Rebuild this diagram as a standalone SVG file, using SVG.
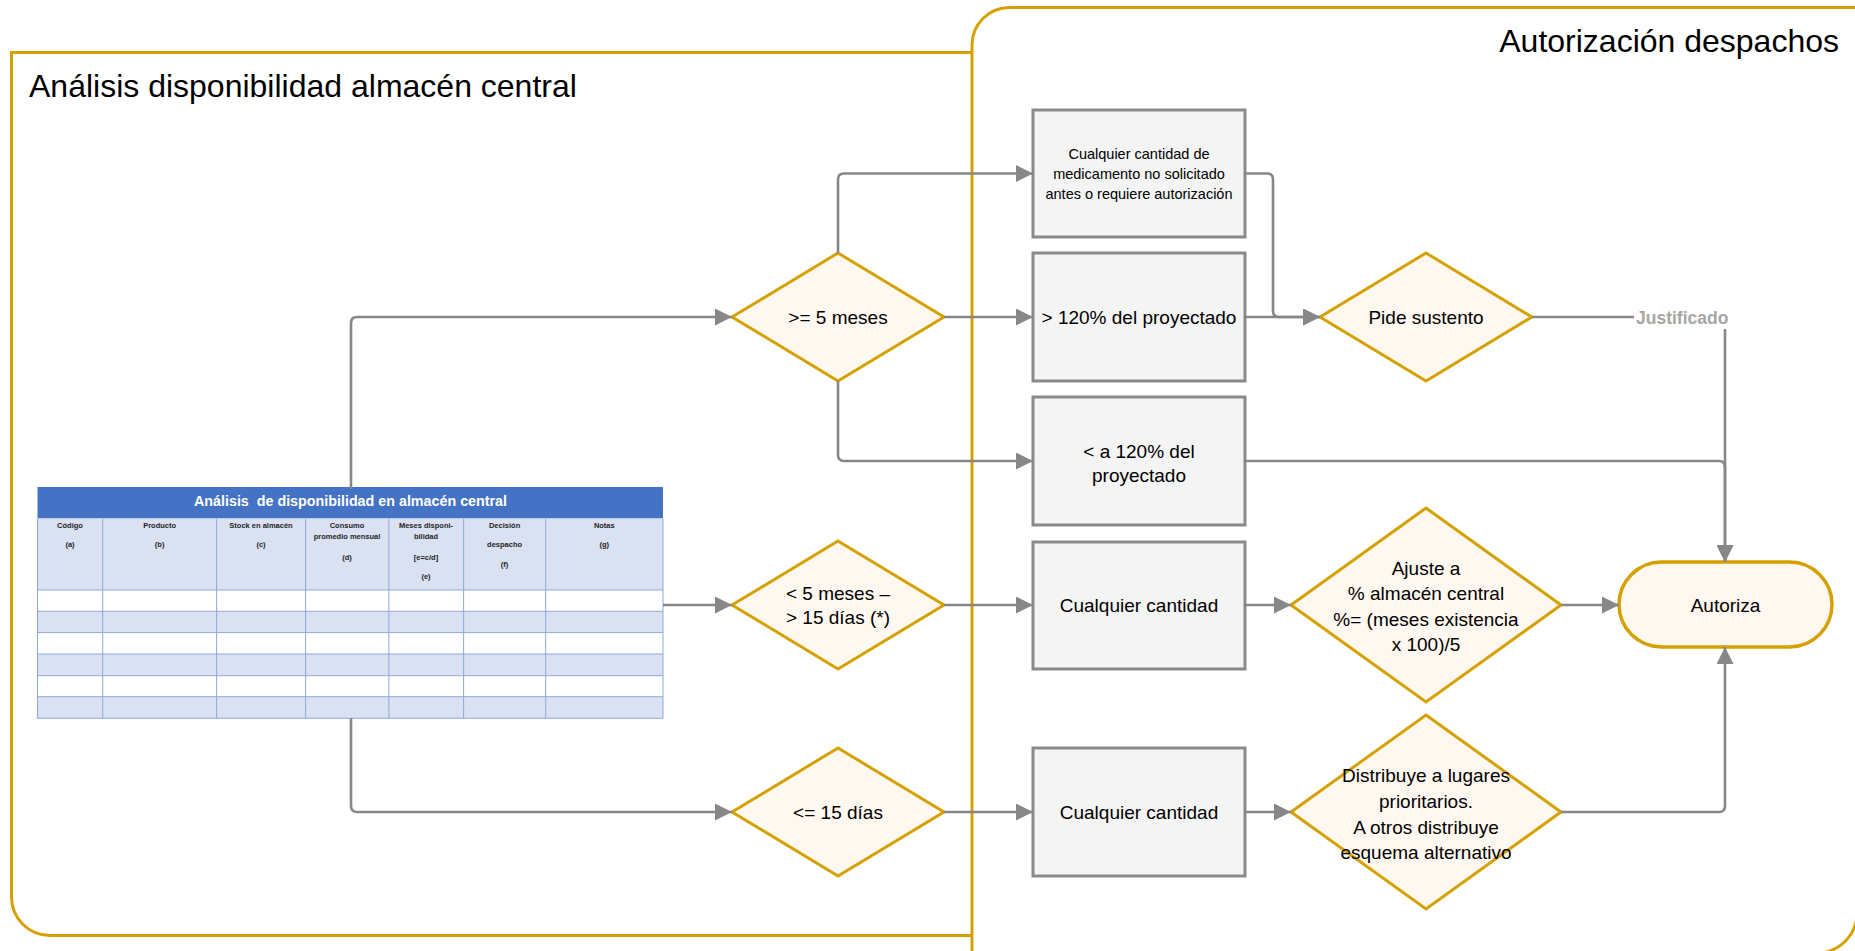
<svg xmlns="http://www.w3.org/2000/svg" width="1855" height="951" viewBox="0 0 1855 951">
<style>
.panel{fill:#fff;stroke:#D5A100;stroke-width:3}
.ptitle{font-family:"Liberation Sans",Arial,sans-serif;font-size:32px;fill:#000}
.dia{fill:#FFF8F1;stroke:#D5A100;stroke-width:3}
.box{fill:#F4F4F4;stroke:#8A8A8A;stroke-width:3}
.term{fill:#FFF8F1;stroke:#D5A100;stroke-width:3.5}
.t{font-family:"Liberation Sans",Arial,sans-serif;font-size:19px;fill:#000;text-anchor:middle}
.ts{font-family:"Liberation Sans",Arial,sans-serif;font-size:14.5px;fill:#000;text-anchor:middle}
.conn path{fill:none;stroke:#878787;stroke-width:2.6}
.lbl{font-family:"Liberation Sans",Arial,sans-serif;font-size:17.5px;font-weight:bold;fill:#A6A6A6}
.th{font-family:"Liberation Sans",Arial,sans-serif;font-size:7.5px;font-weight:bold;fill:#1F1F1F;text-anchor:middle}
.grid{stroke:#8EA9DB;stroke-width:1;fill:none}
</style>
<defs>
<marker id="arr" markerUnits="userSpaceOnUse" markerWidth="17" markerHeight="17" viewBox="0 0 17 17" refX="17" refY="8.5" orient="auto">
<path d="M0,0 L17,8.5 L0,17 z" fill="#878787"/>
</marker>
</defs>

<g id="panel-analisis">
<path class="panel" d="M972,52.5 L11.5,52.5 L11.5,897 A38.5,38.5 0 0 0 50,935.5 L972,935.5"/>
<text class="ptitle" x="29" y="97">Análisis disponibilidad almacén central</text>
</g>
<g id="panel-autorizacion">
<path class="panel" d="M972,953 L972,45 A37.5,37.5 0 0 1 1009.5,7.5 L1857,7.5 L1857,913 A40,40 0 0 1 1817,953 Z"/>
<text class="ptitle" x="1839" y="52" text-anchor="end">Autorización despachos</text>
</g>

<g id="tabla">
<rect x="37.5" y="487" width="625.5" height="31.5" fill="#4472C4"/>
<text x="350.5" y="506" text-anchor="middle" font-family="'Liberation Sans',Arial,sans-serif" font-size="14.3" font-weight="bold" fill="#fff">Análisis&#160; de disponibilidad en almacén central</text>
<rect x="37.5" y="518.5" width="625.5" height="71.5" fill="#D9E1F2"/>
<rect x="37.5" y="590" width="625.5" height="21.3" fill="#fff"/>
<rect x="37.5" y="611.3" width="625.5" height="21.3" fill="#D9E1F2"/>
<rect x="37.5" y="632.6" width="625.5" height="21.4" fill="#fff"/>
<rect x="37.5" y="654" width="625.5" height="21.7" fill="#D9E1F2"/>
<rect x="37.5" y="675.7" width="625.5" height="21" fill="#fff"/>
<rect x="37.5" y="696.7" width="625.5" height="21.6" fill="#D9E1F2"/>
<path class="grid" d="M37.5,518.5 V718.3 H663 V518.5 M37.5,590 H663 M37.5,611.3 H663 M37.5,632.6 H663 M37.5,654 H663 M37.5,675.7 H663 M37.5,696.7 H663 M102.7,518.5 V718.3 M216.6,518.5 V718.3 M305.6,518.5 V718.3 M388.9,518.5 V718.3 M463.6,518.5 V718.3 M545.7,518.5 V718.3"/>
<text class="th" x="70" y="527.7">Código</text>
<text class="th" x="70" y="546.7">(a)</text>
<text class="th" x="159.6" y="527.7">Producto</text>
<text class="th" x="159.6" y="546.7">(b)</text>
<text class="th" x="261" y="527.7">Stock en almacén</text>
<text class="th" x="261" y="546.7">(c)</text>
<text class="th" x="347" y="527.7">Consumo</text>
<text class="th" x="347" y="539.4">promedio mensual</text>
<text class="th" x="347" y="559.7">(d)</text>
<text class="th" x="426" y="527.7">Meses disponi-</text>
<text class="th" x="426" y="539.4">bilidad</text>
<text class="th" x="426" y="559.7">[e=c/d]</text>
<text class="th" x="426" y="579.4">(e)</text>
<text class="th" x="504.6" y="527.7">Decisión</text>
<text class="th" x="504.6" y="546.7">despacho</text>
<text class="th" x="504.6" y="566.7">(f)</text>
<text class="th" x="604.3" y="527.7">Notas</text>
<text class="th" x="604.3" y="546.7">(g)</text>
</g>

<g id="d-mayor5">
<polygon class="dia" points="838,253 944,317 838,381 732,317"/>
<text class="t" x="838" y="324">&gt;= 5 meses</text>
</g>
<g id="d-menor5">
<polygon class="dia" points="838,541 944,605 838,669 732,605"/>
<text class="t" x="838" y="600">&lt; 5 meses –</text>
<text class="t" x="838" y="624">&gt; 15 días (*)</text>
</g>
<g id="d-menor15">
<polygon class="dia" points="838,748 944,812 838,876 732,812"/>
<text class="t" x="838" y="819">&lt;= 15 días</text>
</g>

<g id="b-no-solicitado">
<rect class="box" x="1033" y="110" width="212" height="127"/>
<text class="ts" x="1139" y="159">Cualquier cantidad de</text>
<text class="ts" x="1139" y="179">medicamento no solicitado</text>
<text class="ts" x="1139" y="198.5">antes o requiere autorización</text>
</g>
<g id="b-mayor120">
<rect class="box" x="1033" y="253" width="212" height="128"/>
<text class="t" x="1139" y="324">&gt; 120% del proyectado</text>
</g>
<g id="b-menor120">
<rect class="box" x="1033" y="397" width="212" height="128"/>
<text class="t" x="1139" y="457.5">&lt; a 120% del</text>
<text class="t" x="1139" y="481.5">proyectado</text>
</g>
<g id="b-cantidad1">
<rect class="box" x="1033" y="542" width="212" height="127"/>
<text class="t" x="1139" y="612">Cualquier cantidad</text>
</g>
<g id="b-cantidad2">
<rect class="box" x="1033" y="748" width="212" height="128"/>
<text class="t" x="1139" y="819">Cualquier cantidad</text>
</g>

<g id="d-pide">
<polygon class="dia" points="1426,253 1532,317 1426,381 1320,317"/>
<text class="t" x="1426" y="324">Pide sustento</text>
</g>
<g id="d-ajuste">
<polygon class="dia" points="1426,508 1561,605 1426,702 1291,605"/>
<text class="t" x="1426" y="575">Ajuste a</text>
<text class="t" x="1426" y="600">% almacén central</text>
<text class="t" x="1426" y="625.5">%= (meses existencia</text>
<text class="t" x="1426" y="651">x 100)/5</text>
</g>
<g id="d-distribuye">
<polygon class="dia" points="1426,715 1561,812 1426,909 1291,812"/>
<text class="t" x="1426" y="782">Distribuye a lugares</text>
<text class="t" x="1426" y="807.5">prioritarios.</text>
<text class="t" x="1426" y="833.5">A otros distribuye</text>
<text class="t" x="1426" y="858.5">esquema alternativo</text>
</g>
<g id="autoriza">
<rect class="term" x="1619" y="562" width="213" height="85" rx="42.5" ry="42.5"/>
<text class="t" x="1725.5" y="611.5">Autoriza</text>
</g>

<g id="connectors" class="conn">
<path d="M351,489 V323 Q351,317 357,317 H732" marker-end="url(#arr)"/>
<path d="M663,605 H732" marker-end="url(#arr)"/>
<path d="M351,718.3 V806 Q351,812 357,812 H732" marker-end="url(#arr)"/>
<path d="M838,253 V179.5 Q838,173.5 844,173.5 H1033" marker-end="url(#arr)"/>
<path d="M944,317 H1033" marker-end="url(#arr)"/>
<path d="M838,381 V455 Q838,461 844,461 H1033" marker-end="url(#arr)"/>
<path d="M1245,173.5 H1267 Q1273,173.5 1273,179.5 V311 Q1273,317 1279,317 H1320" marker-end="url(#arr)"/>
<path d="M1245,317 H1320" marker-end="url(#arr)"/>
<path d="M1532,317 H1719 Q1725,317 1725,323 V562" marker-end="url(#arr)"/>
<path d="M1246,461 H1719 Q1725,461 1725,467 V562" marker-end="url(#arr)"/>
<path d="M944,605 H1033" marker-end="url(#arr)"/>
<path d="M1245,605 H1291" marker-end="url(#arr)"/>
<path d="M1561,605 H1619" marker-end="url(#arr)"/>
<path d="M944,812 H1033" marker-end="url(#arr)"/>
<path d="M1245,812 H1291" marker-end="url(#arr)"/>
<path d="M1561,812 H1719 Q1725,812 1725,806 V647" marker-end="url(#arr)"/>
<rect x="1634" y="304" width="98" height="25" fill="#fff"/>
<text class="lbl" x="1636" y="323.5">Justificado</text>
</g>
</svg>
